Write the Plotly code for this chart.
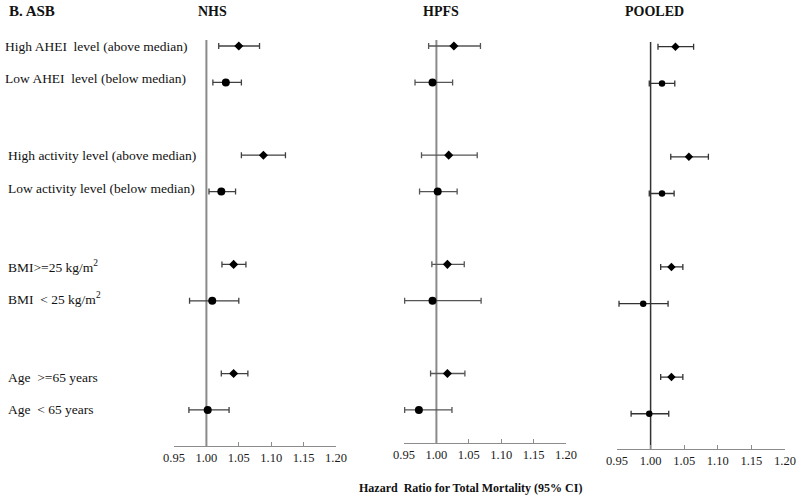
import plotly.graph_objects as go

NB = "\u00a0"
# Row labels (top to bottom); spacer categories separate the groups
row_labels = [
    "High AHEI" + NB + " level (above median)",
    "Low AHEI" + NB + " level (below median)",
    "High activity level (above median)",
    "Low activity level (below median)",
    "BMI>=25 kg/m<sup>2</sup>",
    "BMI" + NB + " < 25 kg/m<sup>2</sup>",
    "Age" + NB + " >=65 years",
    "Age" + NB + " < 65 years",
]
row_keys = ["r1", "r2", "r3", "r4", "r5", "r6", "r7", "r8"]
category_order = ["r1", "r2", "s1", "r3", "r4", "s2", "r5", "r6", "s3", "r7", "r8"]
row_is_high = [True, False, True, False, True, False, True, False]

# Hazard ratios and 95% CI per cohort
nhs_hr = [1.050, 1.030, 1.088, 1.023, 1.042, 1.009, 1.042, 1.002]
nhs_lo = [1.019, 1.010, 1.054, 1.004, 1.024, 0.974, 1.023, 0.973]
nhs_hi = [1.082, 1.054, 1.122, 1.045, 1.061, 1.050, 1.064, 1.035]

hpfs_hr = [1.027, 0.994, 1.019, 1.002, 1.017, 0.994, 1.017, 0.973]
hpfs_lo = [0.988, 0.967, 0.977, 0.974, 0.993, 0.951, 0.991, 0.951]
hpfs_hi = [1.068, 1.025, 1.063, 1.032, 1.043, 1.069, 1.044, 1.024]

pooled_hr = [1.037, 1.017, 1.057, 1.017, 1.031, 0.989, 1.031, 0.998]
pooled_lo = [1.011, 0.998, 1.030, 0.998, 1.015, 0.953, 1.015, 0.971]
pooled_hi = [1.064, 1.036, 1.086, 1.035, 1.048, 1.026, 1.048, 1.027]

tick_vals = [0.95, 1.00, 1.05, 1.10, 1.15, 1.20]
tick_text = ["0.95", "1.00", "1.05", "1.10", "1.15", "1.20"]

W, H = 800, 502
SERIF = "Liberation Serif, Times New Roman, serif"

def px_x(p):
    return p / W

def px_y(p):
    return 1 - p / H

panels = [
    dict(name="NHS", hr=nhs_hr, lo=nhs_lo, hi=nhs_hi, x0=174, x1=336, top=40, bottom=446,
         rng=[10.99, -0.165], err="#404040", ref="#8a8a8a", refw=2, circ=8, dia=7, title_x=212),
    dict(name="HPFS", hr=hpfs_hr, lo=hpfs_lo, hi=hpfs_hi, x0=404, x1=566, top=40, bottom=443,
         rng=[10.91, -0.165], err="#555555", ref="#8a8a8a", refw=2, circ=8, dia=7, title_x=441),
    dict(name="POOLED", hr=pooled_hr, lo=pooled_lo, hi=pooled_hi, x0=617, x1=785, top=42, bottom=449,
         rng=[10.96, -0.128], err="#333333", ref="#333333", refw=1.5, circ=6.5, dia=6.5, title_x=654),
]

fig = go.Figure()
layout = dict(
    width=W, height=H, margin=dict(l=0, r=0, t=0, b=0, pad=0, autoexpand=False),
    paper_bgcolor="white", plot_bgcolor="white", showlegend=False,
    font=dict(family=SERIF, size=12, color="black"),
)
shapes = []
annotations = []

for i, p in enumerate(panels):
    n = "" if i == 0 else str(i + 1)
    xa, ya = "x" + n, "y" + n
    for high in (True, False):
        idx = [k for k in range(len(row_keys)) if row_is_high[k] == high]
        fig.add_trace(go.Scatter(
            x=[p["hr"][k] for k in idx],
            y=[row_keys[k] for k in idx],
            mode="markers",
            marker=dict(symbol="diamond" if high else "circle",
                        size=p["dia"] if high else p["circ"], color="black"),
            error_x=dict(type="data", symmetric=False,
                         array=[p["hi"][k] - p["hr"][k] for k in idx],
                         arrayminus=[p["hr"][k] - p["lo"][k] for k in idx],
                         color=p["err"], thickness=1.3, width=3),
            xaxis=xa, yaxis=ya, cliponaxis=False,
        ))
    layout["xaxis" + n] = dict(
        domain=[px_x(p["x0"]), px_x(p["x1"])], range=[0.95, 1.20], anchor=ya,
        tickvals=tick_vals, ticktext=tick_text, ticks="inside", ticklen=4,
        tickcolor="#8c8c8c", tickwidth=1, showline=True, linecolor="#8c8c8c",
        linewidth=1, showgrid=False, zeroline=False, automargin=False,
        tickfont=dict(family=SERIF, size=12.5, color="#1a1a1a"), fixedrange=True,
    )
    layout["yaxis" + n] = dict(
        domain=[px_y(p["bottom"]), px_y(p["top"])], anchor=xa,
        type="category", categoryorder="array", categoryarray=category_order,
        range=p["rng"], showticklabels=False, showgrid=False, zeroline=False,
        showline=False, ticks="", fixedrange=True, automargin=False,
    )
    shapes.append(dict(type="line", xref=xa, yref=ya + " domain", x0=1.0, x1=1.0,
                       y0=0, y1=1, line=dict(color=p["ref"], width=p["refw"]), layer="below"))
    annotations.append(dict(text="<b>" + p["name"] + "</b>", xref="paper", yref="paper",
                            x=px_x(p["title_x"]), y=px_y(12), xanchor="center", yanchor="middle",
                            showarrow=False, font=dict(family=SERIF, size=14, color="#111")))

# Row labels on the left
label_x = [3, 3, 6, 6, 6, 6, 6, 6]
label_dy = [0, -0.12, 0, -0.08, 0.05, -0.05, 0.1, 0.0]
for k, lab in enumerate(row_labels):
    annotations.append(dict(text=lab, xref="paper", yref="y", x=px_x(label_x[k]),
                            y=category_order.index(row_keys[k]) + label_dy[k],
                            xanchor="left", yanchor="middle", showarrow=False,
                            font=dict(family=SERIF, size=13.5, color="#111")))

annotations.append(dict(text="<b>B. ASB</b>", xref="paper", yref="paper", x=px_x(7), y=px_y(11),
                        xanchor="left", yanchor="middle", showarrow=False,
                        font=dict(family=SERIF, size=15, color="#111")))
annotations.append(dict(text="<b>Hazard" + NB + " Ratio for Total Mortality (95% CI)</b>",
                        xref="paper", yref="paper", x=px_x(470), y=px_y(488),
                        xanchor="center", yanchor="middle", showarrow=False,
                        font=dict(family=SERIF, size=12, color="#111")))

layout["shapes"] = shapes
layout["annotations"] = annotations
fig.update_layout(**layout)
fig.write_html("out.html", config={"displayModeBar": False, "staticPlot": True},
               post_script="document.body.style.margin='0';document.body.style.overflow='hidden';")
